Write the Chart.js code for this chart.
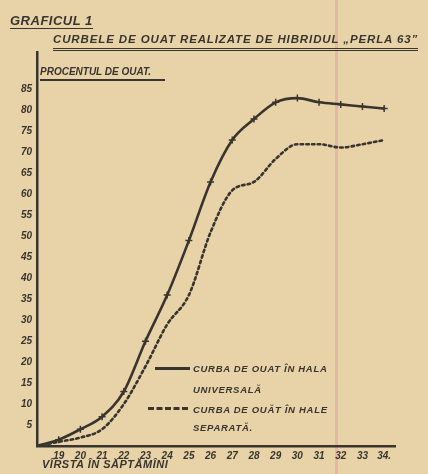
<!DOCTYPE html>
<html>
<head>
<meta charset="utf-8">
<script src="https://cdn.jsdelivr.net/npm/chart.js@4"></script>
<style>
  html, body { margin: 0; padding: 0; }
  body {
    width: 428px; height: 474px; overflow: hidden; position: relative;
    background: #e8d3a9;
    background-image: linear-gradient(to right, transparent 335px, rgba(226,160,160,0.55) 335px, rgba(226,160,160,0.55) 338px, transparent 338px);
    font-family: "Liberation Sans", "DejaVu Sans", sans-serif;
    color: #3a342e;
  }
  #wrap { position: absolute; left: 0; top: 0; width: 428px; height: 474px; }
  .t { position: absolute; font-weight: bold; font-style: italic; white-space: nowrap; line-height: 1; }
  #title { left: 10px; top: 14px; font-size: 13px; border-bottom: 1.5px solid #3a342e; padding-bottom: 1px; letter-spacing: 0.5px; }
  #subtitle { left: 53px; top: 34px; font-size: 11.5px; letter-spacing: 0.88px; border-bottom: 3px double #3a342e; padding-bottom: 2px; }
  #ytitle { left: 40px; top: 67px; font-size: 10px; border-bottom: 2px solid #3a342e; padding-bottom: 2px; padding-right: 14px; }
  #xtitle { left: 42px; top: 459px; font-size: 11px; letter-spacing: 0.5px; }
  .lg { position: absolute; font-size: 9.5px; font-weight: bold; font-style: italic; letter-spacing: 0.7px; white-space: nowrap; line-height: 1; }
  .sw { position: absolute; height: 0; }
</style>
</head>
<body>
<div id="wrap"><canvas id="c" width="428" height="474"></canvas></div>
<div class="t" id="title">GRAFICUL 1</div>
<div class="t" id="subtitle">CURBELE DE OUAT REALIZATE DE HIBRIDUL „PERLA 63”</div>
<div class="t" id="ytitle">PROCENTUL DE OUAT.</div>
<div class="t" id="xtitle">VÎRSTA ÎN SĂPTĂMÎNI</div>
<div class="sw" style="left:155px; top:367px; width:35px; border-top:3px solid #3a342e;"></div>
<div class="lg" style="left:193px; top:364px;">CURBA DE OUAT ÎN HALA</div>
<div class="lg" style="left:193px; top:385px;">UNIVERSALĂ</div>
<div class="sw" style="left:148px; top:407px; width:40px; border-top:3px dashed #3a342e;"></div>
<div class="lg" style="left:193px; top:405px;">CURBA DE OUĂT ÎN HALE</div>
<div class="lg" style="left:193px; top:423px;">SEPARATĂ.</div>
<script>
// ---- data ----
const weeks = [18, 19, 20, 21, 22, 23, 24, 25, 26, 27, 28, 29, 30, 31, 32, 33, 34];
const xTickLabels = ['', '19', '20', '21', '22', '23', '24', '25', '26', '27', '28', '29', '30', '31', '32', '33', '34.'];
const yTickValues = [5, 10, 15, 20, 25, 30, 35, 40, 45, 50, 55, 60, 65, 70, 75, 80, 85];
const halaUniversala = [0, 1.5, 4, 7, 13, 25, 36, 49, 63, 73, 78, 82, 83, 82, 81.5, 81, 80.5];
const haleSeparate = [0, 1, 2, 4, 10, 19, 29, 36, 51, 61, 63, 68.5, 72, 72, 71.2, 72, 73];
const seriesNames = ['CURBA DE OUAT ÎN HALA UNIVERSALĂ', 'CURBA DE OUĂT ÎN HALE SEPARATĂ.'];

const ink = '#3a342e';
const pts = arr => weeks.map((w, i) => ({ x: w, y: arr[i] }));

new Chart(document.getElementById('c'), {
  type: 'line',
  data: {
    datasets: [
      {
        label: seriesNames[0],
        data: pts(halaUniversala),
        borderColor: ink,
        borderWidth: 2.6,
        pointStyle: 'cross',
        pointRadius: ctx => ctx.dataIndex === 0 ? 0 : 3.5,
        pointBorderColor: ink,
        pointBorderWidth: 1.5,
        cubicInterpolationMode: 'monotone',
        fill: false
      },
      {
        label: seriesNames[1],
        data: pts(haleSeparate),
        borderColor: ink,
        borderWidth: 2.6,
        borderDash: [2.5, 3.2],
        borderCapStyle: 'round',
        pointRadius: 0,
        cubicInterpolationMode: 'monotone',
        fill: false
      }
    ]
  },
  options: {
    responsive: false,
    animation: false,
    layout: { padding: { left: 0, top: 52, right: 33, bottom: 0 } },
    plugins: { legend: { display: false }, tooltip: { enabled: false }, title: { display: false } },
    scales: {
      x: {
        type: 'linear',
        min: 18,
        max: 34.5,
        afterBuildTicks: s => { s.ticks = weeks.map(v => ({ value: v })); },
        afterFit: s => { s.height = 28; },
        grid: { display: false, drawTicks: false },
        border: { display: true, color: ink, width: 2.5 },
        ticks: {
          padding: 4,
          autoSkip: false,
          maxRotation: 0,
          color: ink,
          font: { family: '"Liberation Sans", sans-serif', size: 10, weight: 'bold', style: 'italic' },
          callback: v => xTickLabels[weeks.indexOf(v)] ?? ''
        }
      },
      y: {
        min: 0,
        max: 94,
        afterBuildTicks: s => { s.ticks = yTickValues.map(v => ({ value: v })); },
        afterFit: s => { s.width = 37; },
        grid: { display: false, drawTicks: false },
        border: { display: true, color: ink, width: 2.5 },
        ticks: {
          padding: 5,
          color: ink,
          font: { family: '"Liberation Sans", sans-serif', size: 10, weight: 'bold', style: 'italic' },
          callback: v => String(v)
        }
      }
    }
  }
});
</script>
</body>
</html>
